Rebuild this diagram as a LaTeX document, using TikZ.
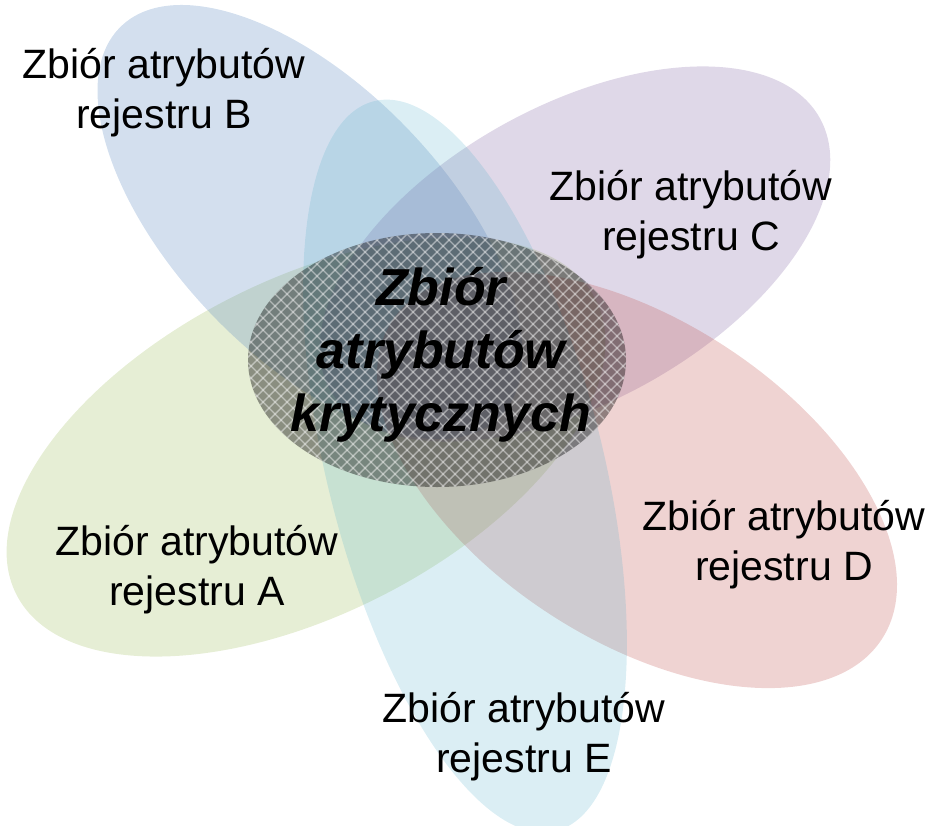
\documentclass[tikz,border=0pt]{standalone}
\usepackage{fontspec}
\setmainfont{Liberation Sans}
\usetikzlibrary{calc}
\usetikzlibrary{positioning}
\definecolor{regA}{HTML}{9BBB59}
\definecolor{regB}{HTML}{4F81BD}
\definecolor{regC}{HTML}{8064A2}
\definecolor{regD}{HTML}{C0504D}
\definecolor{regE}{HTML}{4BACC6}

\begin{document}
\begin{tikzpicture}[x=1pt,y=-1pt]
\tikzstyle{petal}=[fill opacity=.25]
\tikzstyle{lbl}=[align=center,inner sep=0pt,font=\fontsize{41}{50}\selectfont]
\tikzstyle{critlbl}=[align=center,inner sep=0pt,font=\fontsize{52}{63}\selectfont\bfseries\itshape]
\tikzstyle{hatch}=[white,opacity=.45,line width=1.4pt]

\useasboundingbox (0,0) rectangle (931,825);

\coordinate (cA) at (306,447);
\coordinate (cB) at (310,222);
\coordinate (cC) at (575,254);
\coordinate (cD) at (637,480);
\coordinate (cE) at (465,466);
\coordinate (cK) at (437,360);

\fill[petal,fill=regA,rotate around={27:(cA)}] (cA) ellipse [x radius=325pt,y radius=167pt];
\fill[petal,fill=regB,rotate around={-46:(cB)}] (cB) ellipse [x radius=272pt,y radius=135pt];
\fill[petal,fill=regC,rotate around={29:(cC)}] (cC) ellipse [x radius=280pt,y radius=148pt];
\fill[petal,fill=regD,rotate around={-33:(cD)}] (cD) ellipse [x radius=292pt,y radius=160pt];
\fill[petal,fill=regE,fill opacity=.2,rotate around={-76:(cE)}] (cE) ellipse [x radius=376pt,y radius=138pt];

% critical attributes
\fill[black,opacity=.4] (cK) ellipse [x radius=189pt,y radius=127pt];
\begin{scope}
\clip (cK) ellipse [x radius=189pt,y radius=127pt];
\foreach \d in {-336,-324,...,336} {
  \draw[hatch] ($(cK)+(\d-160,-160)$) -- ++(320,320);
  \draw[hatch] ($(cK)+(\d-160,160)$) -- ++(320,-320);
}
\end{scope}

\node[lbl] (labB) at (164,93) {Zbiór atrybutów\\rejestru B};
\node[lbl] (labC) at (691,215) {Zbiór atrybutów\\rejestru C};
\node[lbl] (labA) at (197,570) {Zbiór atrybutów\\rejestru A};
\node[lbl] (labD) at (784,545) {Zbiór atrybutów\\rejestru D};
\node[lbl] (labE) at (524,737) {Zbiór atrybutów\\rejestru E};
\node[critlbl] (crit) at (441,355) {Zbiór\\atrybutów\\krytycznych};
\end{tikzpicture}
\end{document}
